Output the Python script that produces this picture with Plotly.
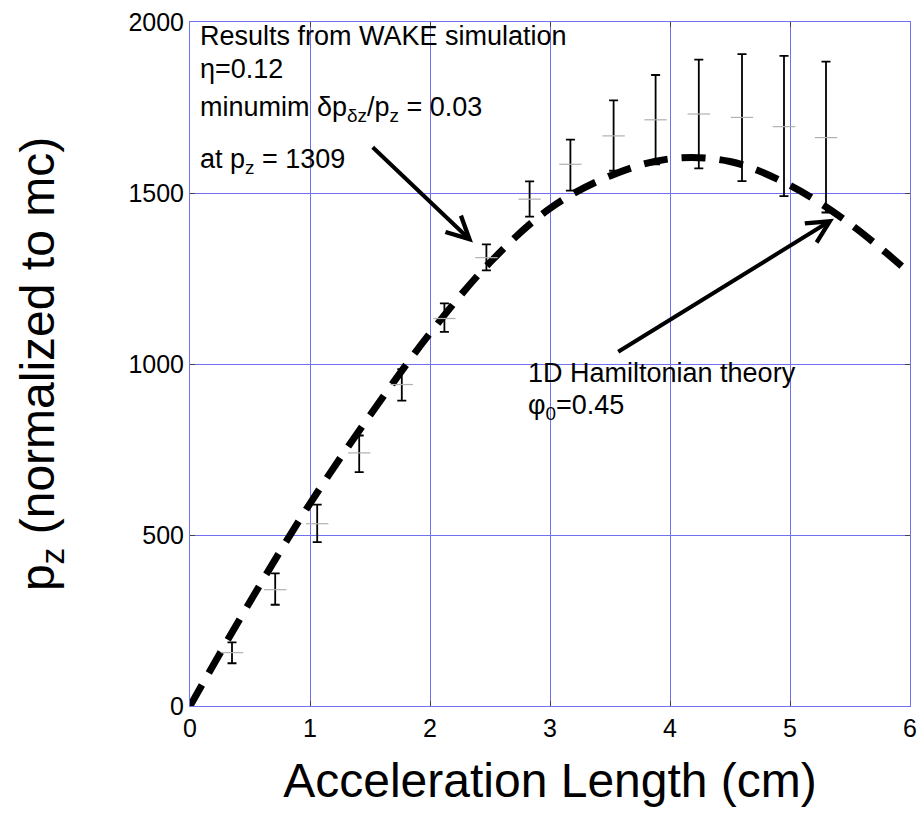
import plotly.graph_objects as go

# WAKE simulation results
sim_x = [0.35, 0.71, 1.06, 1.41, 1.765, 2.12, 2.47, 2.83, 3.17, 3.53, 3.88, 4.24, 4.60, 4.95, 5.30]
sim_y = [156, 340, 533, 740, 940, 1133, 1311, 1482, 1584, 1667, 1714, 1731, 1721, 1694, 1662]
err_plus = [30, 48, 56, 51, 45, 44, 39, 52, 72, 104, 131, 159, 185, 207, 222]
err_minus = [31, 44, 54, 56, 47, 39, 37, 51, 77, 102, 130, 159, 186, 203, 219]

# 1D Hamiltonian theory curve
theory_x = [0, 0.5, 1.0, 1.5, 2.0, 2.5, 3.0, 3.5, 4.0, 4.5, 5.0, 5.5, 6.0]
theory_y = [0, 305, 592, 850, 1090, 1297, 1455, 1550, 1600, 1592, 1522, 1410, 1265]

x_ticks = [0, 1, 2, 3, 4, 5, 6]
y_ticks = [0, 500, 1000, 1500, 2000]

FONT = "Liberation Sans, Arial, Helvetica, sans-serif"

fig = go.Figure()

fig.add_trace(go.Scatter(
    x=theory_x, y=theory_y, mode="lines", line_shape="spline",
    line=dict(color="black", width=7, dash="24px,14px"),
    hoverinfo="skip", showlegend=False,
))

fig.add_trace(go.Scatter(
    x=sim_x, y=sim_y, mode="markers",
    marker=dict(symbol="line-ew", size=16, color="#b0b0b0",
                line=dict(color="#b0b0b0", width=1.2)),
    error_y=dict(type="data", symmetric=False, array=err_plus, arrayminus=err_minus,
                 color="black", thickness=1.8, width=4.5),
    showlegend=False,
))

ann = []
txt_font = dict(family=FONT, size=27, color="black")
def text(s, x, y):
    ann.append(dict(x=x, y=y, xref="x", yref="y", text=s, showarrow=False,
                    xanchor="left", yanchor="middle", font=txt_font))

text("Results from WAKE simulation", 0.07, 1958)
text("η=0.12", 0.07, 1862)
text("minumim δp<sub>δz</sub>/p<sub>z</sub> = 0.03", 0.07, 1745)
text("at p<sub>z</sub> = 1309", 0.07, 1595)
text("1D Hamiltonian theory", 2.80, 975)
text("φ<sub>0</sub>=0.45", 2.80, 875)

# arrows
ann.append(dict(x=2.358, y=1355, ax=1.51, ay=1638, xref="x", yref="y", axref="x", ayref="y",
                text="", showarrow=True, arrowhead=5, arrowsize=1.1, arrowwidth=4,
                arrowcolor="black", standoff=0, startstandoff=0))
ann.append(dict(x=5.366, y=1425, ax=3.556, ay=1033, xref="x", yref="y", axref="x", ayref="y",
                text="", showarrow=True, arrowhead=5, arrowsize=1.1, arrowwidth=4,
                arrowcolor="black", standoff=0, startstandoff=0))

grid = "#7070f0"
fig.update_layout(
    width=921, height=830,
    margin=dict(l=190, r=11, t=22, b=124, pad=0, autoexpand=False),
    paper_bgcolor="white", plot_bgcolor="white",
    font=dict(family=FONT, color="black"),
    annotations=ann,
    xaxis=dict(
        range=[0, 6], tickvals=x_ticks, ticktext=[str(v) for v in x_ticks],
        showgrid=True, gridcolor=grid, gridwidth=1, zeroline=False,
        showline=True, linecolor=grid, linewidth=1, mirror="ticks",
        ticks="inside", ticklen=5, tickcolor="#444444", automargin=False,
        tickfont=dict(size=25, family=FONT),
        title=dict(text="Acceleration Length (cm)", font=dict(size=48, family=FONT), standoff=22),
    ),
    yaxis=dict(
        range=[0, 2000], tickvals=y_ticks, ticktext=[str(v) for v in y_ticks],
        showgrid=True, gridcolor=grid, gridwidth=1, zeroline=False,
        showline=True, linecolor=grid, linewidth=1, mirror="ticks",
        ticks="inside", ticklen=5, tickcolor="#444444", automargin=False,
        tickfont=dict(size=25, family=FONT),
        title=dict(text="p<sub>z</sub> (normalized to mc)", font=dict(size=48, family=FONT), standoff=58),
    ),
)

fig.write_html("out.html")
